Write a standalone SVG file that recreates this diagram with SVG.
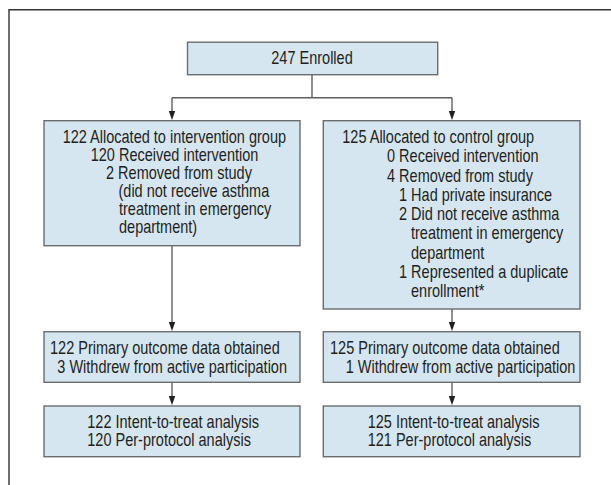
<svg xmlns="http://www.w3.org/2000/svg" width="611" height="485" viewBox="0 0 611 485">
<style>
.box{fill:#d5e6f0;stroke:#6b6c6e;stroke-width:1.4}
.t{font-family:"Liberation Sans",Arial,sans-serif;font-size:17.7px;fill:#231f20}
.c{fill:none;stroke:#5e5f61;stroke-width:1.4}
.frame{fill:none;stroke:#333;stroke-width:1.4}
.ah{fill:#231f20}
</style>
<rect width="611" height="485" fill="#fff"/>
<path class="frame" d="M9,485 V9.7 H611"/>
<g id="connectors">
<path class="c" d="M312,74.7 V97.7"/>
<path class="c" d="M172,97.7 H452"/>
<path class="c" d="M172,97.7 V112"/>
<path class="c" d="M452,97.7 V112"/>
<polygon class="ah" points="168.8,111 175.2,111 172,120"/>
<polygon class="ah" points="448.8,111 455.2,111 452,120"/>
<path class="c" d="M172,245.7 V323"/>
<polygon class="ah" points="168.8,322 175.2,322 172,331"/>
<path class="c" d="M452,309 V323"/>
<polygon class="ah" points="448.8,322 455.2,322 452,331"/>
<path class="c" d="M172,382.3 V397"/>
<polygon class="ah" points="168.8,396 175.2,396 172,405.3"/>
<path class="c" d="M452,382.3 V397"/>
<polygon class="ah" points="448.8,396 455.2,396 452,405.3"/>
</g>
<g id="enrolled">
<rect class="box" x="187.5" y="42.2" width="250.2" height="32.5"/>
<text class="t" transform="translate(312 64.3) scale(0.82 1)" text-anchor="middle">247 Enrolled</text>
</g>
<g id="intervention">
<rect class="box" x="44" y="120.7" width="256" height="125"/>
<text class="t" transform="translate(62.7 143.3) scale(0.82 1)">122 Allocated to intervention group</text>
<text class="t" transform="translate(90.7 161.3) scale(0.82 1)">120 Received intervention</text>
<text class="t" transform="translate(106 179.3) scale(0.82 1)">2 Removed from study</text>
<text class="t" transform="translate(118.5 197.3) scale(0.82 1)">(did not receive asthma</text>
<text class="t" transform="translate(119 215.3) scale(0.82 1)">treatment in emergency</text>
<text class="t" transform="translate(119 233.3) scale(0.82 1)">department)</text>
</g>
<g id="control">
<rect class="box" x="323.3" y="120.7" width="256.7" height="188.3"/>
<text class="t" transform="translate(342.3 143) scale(0.82 1)">125 Allocated to control group</text>
<text class="t" transform="translate(387 162.3) scale(0.82 1)">0 Received intervention</text>
<text class="t" transform="translate(387 181.5) scale(0.82 1)">4 Removed from study</text>
<text class="t" transform="translate(399 200.8) scale(0.82 1)">1 Had private insurance</text>
<text class="t" transform="translate(399 220.1) scale(0.82 1)">2 Did not receive asthma</text>
<text class="t" transform="translate(411 239.4) scale(0.82 1)">treatment in emergency</text>
<text class="t" transform="translate(411 258.7) scale(0.82 1)">department</text>
<text class="t" transform="translate(399 278) scale(0.82 1)">1 Represented a duplicate</text>
<text class="t" transform="translate(411 297.3) scale(0.82 1)">enrollment*</text>
</g>
<g id="int-outcome">
<rect class="box" x="44" y="331.7" width="256" height="50.6"/>
<text class="t" transform="translate(50 354) scale(0.82 1)">122 Primary outcome data obtained</text>
<text class="t" transform="translate(57.3 372.7) scale(0.82 1)">3 Withdrew from active participation</text>
</g>
<g id="ctl-outcome">
<rect class="box" x="323.3" y="331.7" width="256.7" height="50.6"/>
<text class="t" transform="translate(330 354) scale(0.82 1)">125 Primary outcome data obtained</text>
<text class="t" transform="translate(345.7 372.7) scale(0.82 1)">1 Withdrew from active participation</text>
</g>
<g id="int-analysis">
<rect class="box" x="44" y="406" width="256" height="50.7"/>
<text class="t" transform="translate(87.3 428.3) scale(0.82 1)">122 Intent-to-treat analysis</text>
<text class="t" transform="translate(87.3 445.7) scale(0.82 1)">120 Per-protocol analysis</text>
</g>
<g id="ctl-analysis">
<rect class="box" x="323.3" y="406" width="256.7" height="50.7"/>
<text class="t" transform="translate(367.7 428.3) scale(0.82 1)">125 Intent-to-treat analysis</text>
<text class="t" transform="translate(367.7 445.7) scale(0.82 1)">121 Per-protocol analysis</text>
</g>
</svg>
